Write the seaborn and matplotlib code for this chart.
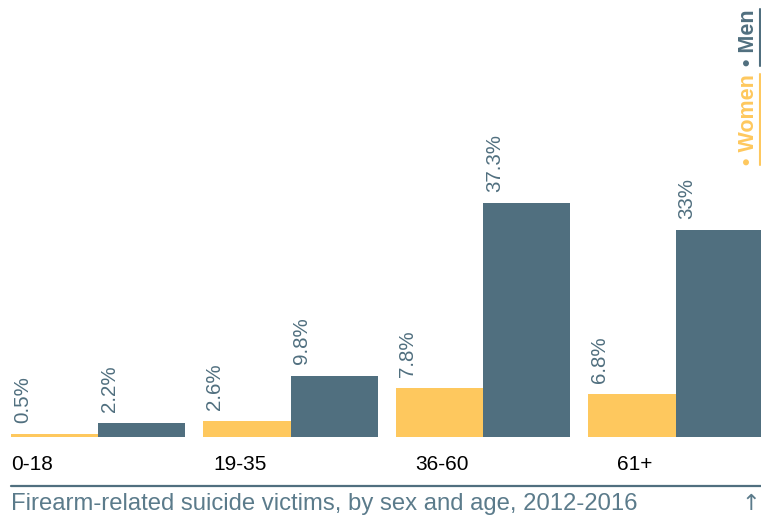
import matplotlib
matplotlib.use("Agg")
import matplotlib.pyplot as plt
import pandas as pd
import seaborn as sns
from matplotlib.lines import Line2D

# data
age_groups = ["0-18", "19-35", "36-60", "61+"]
women = [0.5, 2.6, 7.8, 6.8]
men = [2.2, 9.8, 37.3, 33.0]
value_labels_women = ["0.5%", "2.6%", "7.8%", "6.8%"]
value_labels_men = ["2.2%", "9.8%", "37.3%", "33%"]

YELLOW = "#fec85e"
SLATE = "#506f7f"
CAPTION = "#5b7b8b"

df = pd.DataFrame({
    "age": age_groups * 2,
    "share": women + men,
    "sex": ["Women"] * 4 + ["Men"] * 4,
})

sns.set_style("white")
plt.rcParams["font.family"] = ["Liberation Sans", "DejaVu Sans"]

W, H = 761, 517
fig = plt.figure(figsize=(W / 100, H / 100), dpi=100)
ax = fig.add_axes([0, (H - 437) / H, 1, 437 / H])

bar_w = 0.904
sns.barplot(data=df, x="age", y="share", hue="sex", palette=[YELLOW, SLATE],
            width=bar_w, dodge=True, saturation=1, legend=False,
            linewidth=0, ax=ax)

ax.set_ylim(0, 69.7)
ax.set_xlim(-98 / 192.5, (761 - 98) / 192.5)
sns.despine(ax=ax, left=True, bottom=True)
ax.set_yticks([])
ax.set_xlabel("")
ax.set_ylabel("")

# tick labels sit on their own even spacing, left-aligned
label_step = 202 / 192.5
ax.set_xticks([i * label_step - bar_w / 2 for i in range(len(age_groups))])
ax.set_xticklabels(age_groups, ha="left", fontsize=15, color="black")
ax.tick_params(axis="x", length=0, pad=13)

# value labels, rotated, sitting above each bar
labels = value_labels_women + value_labels_men
for patch, lab in zip(ax.patches, labels):
    ax.annotate(lab, (patch.get_x(), patch.get_height()),
                xytext=(1.3, 8), textcoords="offset points",
                rotation=90, ha="left", va="bottom",
                fontsize=14.8, color=SLATE)

# caption rule and text
fig.add_artist(Line2D([11 / W, 1], [(H - 486) / H] * 2, color=SLATE, lw=1.6,
                      transform=fig.transFigure))
fig.text(11 / W, (H - 504) / H, "Firearm-related suicide victims, by sex and age, 2012-2016",
         fontsize=17.2, color=CAPTION, ha="left", va="center")
fig.text(751 / W, (H - 504) / H, "\u2191", fontsize=16, color=CAPTION,
         ha="center", va="center", family=["DejaVu Sans"])

# vertical legend top right
t_w = fig.text(748 / W, (H - 165) / H, "\u2022 Women", rotation=90, fontsize=15.5,
               fontweight="bold", color=YELLOW, ha="center", va="bottom")
t_m = fig.text(748 / W, (H - 66) / H, "\u2022 Men", rotation=90, fontsize=15.5,
               fontweight="bold", color=SLATE, ha="center", va="bottom")
fig.canvas.draw()
for t, c in [(t_w, YELLOW), (t_m, SLATE)]:
    bb = t.get_window_extent()
    fig.add_artist(Line2D([(bb.x1 + 1) / W] * 2, [bb.y0 / H, bb.y1 / H],
                          color=c, lw=1.5, transform=fig.transFigure))

fig.savefig("out.png", dpi=100)
